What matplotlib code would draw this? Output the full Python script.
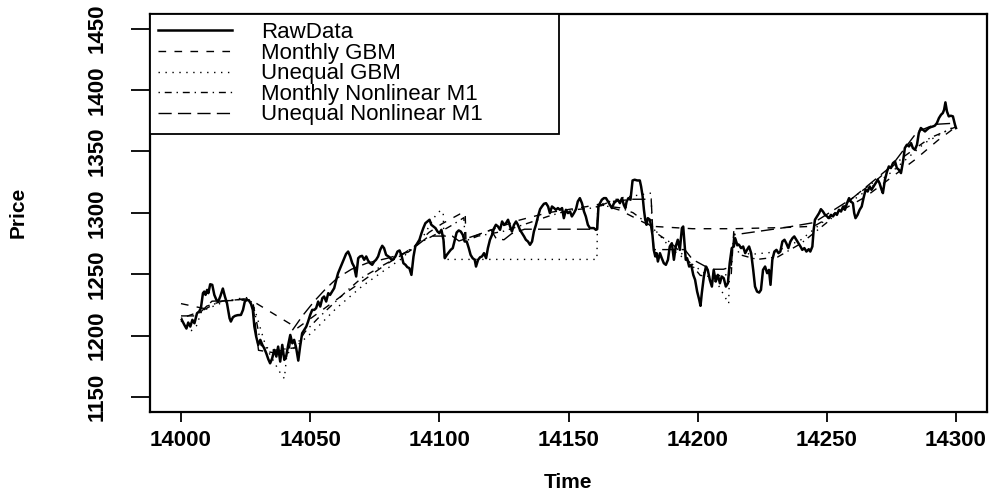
import matplotlib
matplotlib.use('Agg')
import matplotlib.pyplot as plt
from matplotlib.lines import Line2D

plt.rcParams['font.family'] = ['Liberation Sans', 'DejaVu Sans']

# ---------------- data ----------------
raw_t = [14000.3, 14001.3, 14002.1, 14002.8, 14003.6, 14004.4, 14005.2, 14006.2, 14007.0, 14007.7,
         14008.5, 14009.0, 14009.5, 14010.1, 14010.6, 14011.3, 14012.1, 14012.9, 14013.7, 14014.4,
         14015.2, 14016.2, 14017.0, 14017.8, 14018.8, 14019.3, 14020.1, 14020.9, 14021.9, 14023.2,
         14024.0, 14024.7, 14025.5, 14026.3, 14027.1, 14027.8, 14028.4, 14029.1, 14029.9, 14030.7,
         14031.5, 14032.2, 14033.0, 14033.8, 14034.5, 14035.3, 14036.1, 14036.9, 14037.6, 14038.4,
         14039.2, 14040.0, 14040.7, 14041.5, 14042.3, 14043.1, 14043.8, 14044.6, 14045.4, 14046.1,
         14046.9, 14047.7, 14048.5, 14049.2, 14050.0, 14050.8, 14051.6, 14052.3, 14053.1, 14053.9,
         14054.7, 14055.4, 14056.2, 14057.0, 14057.7, 14058.5, 14059.3, 14060.1, 14060.8, 14061.6,
         14062.4, 14063.2, 14063.9, 14064.7, 14065.5, 14066.3, 14067.0, 14067.8, 14068.6, 14069.3,
         14070.1, 14070.9, 14071.7, 14072.4, 14073.2, 14074.0, 14074.8, 14075.5, 14076.3, 14077.1,
         14077.9, 14078.6, 14079.4, 14080.7, 14081.5, 14082.2, 14083.0, 14083.8, 14084.6, 14085.3,
         14086.1, 14086.9, 14087.6, 14088.4, 14089.2, 14090.0, 14090.7, 14091.5, 14092.3, 14093.1,
         14093.8, 14094.6, 14095.4, 14096.2, 14096.9, 14097.7, 14098.5, 14099.3, 14100.0, 14100.8,
         14101.6, 14102.1, 14102.9, 14103.6, 14104.4, 14105.2, 14106.0, 14106.7, 14107.5, 14108.3,
         14109.1, 14109.8, 14110.6, 14111.4, 14112.1, 14112.9, 14113.7, 14114.2, 14115.0, 14115.8,
         14116.5, 14117.3, 14118.1, 14118.8, 14119.6, 14120.4, 14121.2, 14121.9, 14122.7, 14123.5,
         14124.3, 14125.0, 14125.8, 14126.6, 14127.4, 14128.1, 14128.9, 14129.7, 14130.4, 14131.2,
         14132.0, 14132.8, 14133.5, 14134.3, 14135.1, 14135.9, 14136.6, 14137.4, 14138.2, 14139.0,
         14139.7, 14140.5, 14141.3, 14142.1, 14142.8, 14143.6, 14144.4, 14145.1, 14145.9, 14146.7,
         14147.5, 14148.2, 14149.0, 14149.8, 14150.6, 14151.3, 14152.1, 14152.9, 14153.6, 14154.4,
         14155.2, 14156.0, 14156.7, 14157.5, 14158.3, 14159.1, 14159.8, 14160.6, 14161.1, 14161.6,
         14162.2, 14162.9, 14163.7, 14164.5, 14165.3, 14166.0, 14166.8, 14167.6, 14168.3, 14169.1,
         14169.9, 14170.7, 14171.4, 14172.0, 14172.5, 14173.2, 14174.0, 14174.8, 14175.6, 14176.6,
         14177.6, 14178.1, 14178.7, 14179.2, 14179.7, 14180.2, 14180.7, 14181.5, 14182.0, 14182.5,
         14183.0, 14183.6, 14184.1, 14184.6, 14185.4, 14186.1, 14186.9, 14187.7, 14188.5, 14189.2,
         14190.0, 14190.8, 14191.5, 14192.3, 14193.1, 14193.9, 14194.4, 14194.9, 14195.4, 14195.9,
         14196.7, 14197.5, 14198.3, 14199.0, 14199.8, 14200.6, 14201.1, 14201.6, 14202.4, 14203.2,
         14203.9, 14204.7, 14205.5, 14206.2, 14207.0, 14207.8, 14208.6, 14209.3, 14210.1, 14210.9,
         14211.7, 14212.4, 14213.2, 14214.0, 14214.5, 14215.3, 14216.0, 14216.8, 14217.6, 14218.4,
         14219.1, 14219.9, 14220.7, 14221.5, 14222.2, 14223.0, 14223.8, 14224.5, 14225.3, 14226.1,
         14226.9, 14227.6, 14228.2, 14228.9, 14229.7, 14230.5, 14231.3, 14232.0, 14232.8, 14233.6,
         14234.3, 14235.1, 14235.9, 14236.7, 14237.4, 14238.2, 14239.0, 14239.8, 14240.5, 14241.3,
         14242.1, 14243.0, 14243.6, 14244.4, 14244.9, 14245.4, 14246.2, 14247.0, 14247.7, 14248.5,
         14249.3, 14250.1, 14250.8, 14251.6, 14252.4, 14253.2, 14253.9, 14254.7, 14255.5, 14256.3,
         14257.0, 14257.8, 14258.6, 14259.3, 14260.1, 14260.6, 14261.1, 14261.9, 14262.7, 14263.5,
         14264.2, 14265.0, 14265.8, 14266.6, 14267.3, 14268.1, 14268.9, 14269.7, 14270.4, 14271.2,
         14271.7, 14272.5, 14273.3, 14274.0, 14274.8, 14275.6, 14276.4, 14277.1, 14277.9, 14278.7,
         14279.5, 14280.2, 14281.0, 14281.8, 14282.6, 14283.3, 14284.1, 14284.9, 14285.6, 14286.4,
         14287.2, 14288.0, 14288.7, 14289.5, 14290.3, 14291.1, 14291.8, 14292.6, 14293.4, 14294.2,
         14294.9, 14295.4, 14295.9, 14296.5, 14297.2, 14298.0, 14298.8, 14299.6, 14300.0]
raw_v = [1212.8, 1208.7, 1205.7, 1210.6, 1207.3, 1212.8, 1210.0, 1218.2, 1219.5, 1222.3,
         1234.5, 1235.8, 1233.1, 1237.2, 1234.5, 1241.8, 1241.3, 1233.1, 1229.1, 1227.7,
         1231.8, 1238.3, 1231.8, 1226.3, 1214.1, 1211.4, 1214.9, 1216.0, 1216.6, 1216.8,
         1220.9, 1227.7, 1229.1, 1228.5, 1225.8, 1220.9, 1207.3, 1199.2, 1192.4, 1196.5,
         1192.4, 1189.7, 1185.6, 1180.7, 1177.4, 1181.5, 1188.3, 1182.9, 1191.0, 1178.8,
         1192.4, 1180.2, 1182.9, 1192.4, 1200.5, 1193.7, 1196.5, 1189.7, 1179.6, 1191.0,
         1201.9, 1204.6, 1207.3, 1211.4, 1216.8, 1220.9, 1220.9, 1222.3, 1227.7, 1223.6,
         1230.4, 1231.8, 1227.7, 1234.5, 1233.1, 1235.8, 1238.6, 1245.4, 1250.8, 1254.9,
         1258.9, 1263.0, 1266.5, 1268.4, 1264.4, 1258.9, 1256.2, 1248.1, 1263.0, 1264.4,
         1264.9, 1261.7, 1264.4, 1261.1, 1258.9, 1257.6, 1260.3, 1261.7, 1264.4, 1269.8,
         1273.1, 1271.2, 1265.7, 1263.8, 1261.7, 1262.2, 1264.4, 1268.4, 1269.3, 1265.7,
         1258.9, 1257.6, 1255.7, 1254.9, 1249.4, 1264.4, 1272.5, 1275.2, 1278.0, 1283.4,
         1287.5, 1291.5, 1292.9, 1294.3, 1290.2, 1288.8, 1287.5, 1284.7, 1283.4, 1286.1,
         1278.0, 1263.0, 1265.7, 1267.6, 1269.8, 1271.2, 1278.0, 1283.9, 1285.6, 1284.7,
         1282.0, 1276.6, 1276.6, 1271.2, 1265.7, 1263.0, 1261.7, 1256.2, 1261.7, 1263.8,
         1264.4, 1267.1, 1263.0, 1271.2, 1278.0, 1282.0, 1287.5, 1290.2, 1288.8, 1286.1,
         1292.9, 1290.2, 1291.5, 1294.3, 1288.8, 1284.7, 1290.2, 1292.9, 1290.2, 1286.1,
         1283.4, 1280.7, 1278.0, 1276.6, 1273.9, 1276.6, 1284.7, 1290.2, 1297.0, 1302.9,
         1305.1, 1307.3, 1307.8, 1305.1, 1299.7, 1305.1, 1303.8, 1302.4, 1303.8, 1302.4,
         1303.8, 1295.6, 1302.4, 1299.7, 1301.0, 1297.0, 1299.7, 1302.9, 1309.2, 1311.9,
         1307.8, 1301.0, 1297.0, 1290.2, 1287.5, 1287.5, 1287.5, 1286.1, 1286.6, 1305.1,
         1307.8, 1310.6, 1311.9, 1311.9, 1309.2, 1306.5, 1303.8, 1307.8, 1309.2, 1310.6,
         1307.8, 1311.9, 1306.5, 1303.8, 1309.2, 1311.9, 1310.6, 1326.3, 1326.9, 1326.3,
         1326.3, 1321.4, 1313.3, 1302.4, 1294.3, 1290.2, 1295.6, 1294.3, 1288.8, 1282.0,
         1269.8, 1264.4, 1267.1, 1260.3, 1267.1, 1263.0, 1258.9, 1257.6, 1261.7, 1272.5,
         1275.2, 1261.7, 1272.5, 1278.0, 1269.8, 1287.5, 1288.8, 1275.2, 1261.7, 1263.0,
         1256.2, 1257.6, 1249.4, 1245.4, 1235.8, 1229.1, 1224.2, 1234.5, 1248.1, 1256.2,
         1253.5, 1245.4, 1239.9, 1253.5, 1244.0, 1249.4, 1242.6, 1248.1, 1246.7, 1239.9,
         1242.6, 1258.9, 1271.2, 1272.5, 1279.3, 1273.9, 1273.9, 1271.2, 1272.5, 1267.1,
         1269.8, 1272.5, 1267.1, 1253.5, 1239.9, 1235.8, 1235.0, 1237.2, 1253.5, 1256.2,
         1250.8, 1253.5, 1241.3, 1261.7, 1268.4, 1269.8, 1267.1, 1268.4, 1276.6, 1278.0,
         1275.2, 1271.2, 1276.6, 1279.3, 1280.7, 1278.0, 1275.2, 1272.5, 1269.8, 1271.2,
         1268.4, 1270.3, 1268.4, 1272.5, 1286.1, 1294.3, 1297.0, 1299.7, 1302.9, 1301.0,
         1298.3, 1297.0, 1295.6, 1298.3, 1297.0, 1299.7, 1298.3, 1302.4, 1301.0, 1305.1,
         1302.4, 1307.8, 1311.9, 1309.2, 1307.8, 1299.7, 1295.6, 1298.3, 1302.4, 1305.1,
         1311.9, 1318.7, 1317.3, 1321.4, 1318.7, 1321.4, 1324.1, 1326.9, 1324.1, 1318.7,
         1316.0, 1326.9, 1333.6, 1337.7, 1336.4, 1340.4, 1341.8, 1336.4, 1335.0, 1332.3,
         1341.8, 1352.7, 1355.4, 1354.0, 1356.7, 1352.7, 1351.3, 1355.4, 1364.9, 1369.0,
         1367.6, 1366.2, 1367.6, 1369.0, 1369.8, 1370.3, 1370.9, 1373.0, 1377.1, 1379.8,
         1381.2, 1383.9, 1389.9, 1382.5, 1378.5, 1379.0, 1378.5, 1371.7, 1369.0]

mgbm_t = [14000, 14009, 14012, 14027, 14045, 14062, 14078, 14090, 14096, 14101, 14108, 14110,
          14110.3, 14115, 14120, 14131, 14142, 14157, 14162, 14170, 14182, 14198, 14214, 14234,
          14245, 14265, 14284, 14293, 14300]
mgbm_v = [1226, 1222, 1228, 1229, 1206, 1232, 1256, 1272, 1284, 1291, 1299, 1300,
          1278, 1282, 1286, 1294, 1300, 1305, 1307, 1302, 1289, 1287, 1287, 1288,
          1289, 1313, 1343, 1359, 1370]

ugbm_t = [14000, 14004, 14006, 14008, 14015, 14022, 14026, 14028, 14033, 14038, 14040, 14041,
          14045, 14052, 14060, 14070, 14078, 14085, 14093, 14098.6, 14100.5, 14101.5, 14102,
          14161, 14161.3, 14170, 14182, 14182.3, 14190, 14198, 14207.5, 14212, 14212.3, 14214,
          14220, 14230, 14240, 14250, 14262, 14275, 14288, 14300]
ugbm_v = [1212, 1204, 1208, 1220, 1226, 1230, 1231, 1225, 1190, 1171, 1165, 1185,
          1192, 1205, 1222, 1240, 1252, 1262, 1278, 1298, 1302, 1300, 1262,
          1262, 1306, 1312, 1316, 1289, 1270, 1258, 1243, 1226, 1250, 1278,
          1266, 1268, 1278, 1295, 1313, 1333, 1357, 1371]

mnl_t = [14000, 14008, 14015, 14026, 14028, 14031, 14036, 14044, 14048, 14053, 14058, 14064,
         14070, 14078, 14085, 14092, 14100, 14105, 14109.5, 14110, 14115, 14125, 14135, 14142,
         14150, 14160, 14162, 14170, 14175, 14182, 14185, 14190, 14196, 14201, 14205, 14213,
         14214, 14216, 14223, 14231, 14240, 14250, 14260, 14270, 14280, 14290, 14300]
mnl_v = [1214, 1220, 1228, 1230, 1225, 1192, 1188, 1190, 1203, 1214, 1224, 1236,
         1247, 1257, 1265, 1275, 1284, 1290, 1296, 1277, 1281, 1285, 1292, 1297,
         1302, 1304, 1306, 1304, 1300, 1289, 1282, 1275, 1262, 1249, 1248, 1250,
         1286, 1266, 1262, 1264, 1275, 1292, 1312, 1328, 1346, 1361, 1370]

unl_t = [14000, 14006, 14010, 14016, 14026, 14028, 14030, 14036, 14042, 14043, 14047, 14051.6,
         14056, 14060.6, 14066, 14072, 14080, 14088, 14096, 14105, 14107.6, 14114.7, 14120,
         14122, 14125, 14128, 14133, 14161, 14161.5, 14166, 14175, 14182, 14183, 14195, 14198,
         14205, 14210, 14213, 14214, 14234, 14245, 14260, 14275, 14285, 14292, 14300]
unl_v = [1216, 1216, 1224, 1228, 1230, 1222, 1188, 1186, 1190, 1204, 1216, 1228,
         1238, 1247, 1254, 1259, 1263, 1268, 1281, 1281, 1277, 1282, 1286,
         1279, 1278, 1283, 1286.6, 1286.6, 1305, 1309, 1311, 1311, 1270, 1270, 1262,
         1254, 1254, 1256, 1282, 1288, 1292, 1312, 1338, 1366, 1372, 1373]

series_labels = ['RawData', 'Monthly GBM', 'Unequal GBM', 'Monthly Nonlinear M1', 'Unequal Nonlinear M1']
x_ticks = [14000, 14050, 14100, 14150, 14200, 14250, 14300]
x_tick_labels = ['14000', '14050', '14100', '14150', '14200', '14250', '14300']
y_ticks = [1150, 1200, 1250, 1300, 1350, 1400, 1450]
y_tick_labels = ['1150', '1200', '1250', '1300', '1350', '1400', '1450']

# ---------------- figure ----------------
fig = plt.figure(figsize=(10, 4.95), dpi=100)
ax = fig.add_axes([0.15, 0.1683, 0.837, 0.8038])

styles = [
    dict(color='black', lw=1.8, linestyle='-'),
    dict(color='black', lw=1.0, linestyle=(0, (5.5, 6))),
    dict(color='black', lw=1.0, linestyle=(0, (1, 4))),
    dict(color='black', lw=1.0, linestyle=(0, (1, 3.5, 5, 3.5))),
    dict(color='black', lw=1.0, linestyle=(0, (9.5, 4.5))),
]
data = [(raw_t, raw_v), (mgbm_t, mgbm_v), (ugbm_t, ugbm_v), (mnl_t, mnl_v), (unl_t, unl_v)]
for (t, v), st, lab in list(zip(data, styles, series_labels))[1:]:
    ax.plot(t, v, label=lab, **st)
ax.plot(raw_t, raw_v, label=series_labels[0], zorder=5, **styles[0])

ax.set_xlim(13988, 14312)
ax.set_ylim(1138, 1462)

ax.set_xticks(x_ticks, labels=x_tick_labels, fontsize=16, fontweight='bold')
ax.set_yticks(y_ticks, labels=y_tick_labels, fontsize=16, fontweight='bold',
              rotation=90, va='center')
ax.tick_params(axis='x', length=7.2, width=1.3, pad=6, direction='out')
ax.tick_params(axis='y', length=13.7, width=1.3, pad=17, direction='out')
for sp in ax.spines.values():
    sp.set_linewidth(1.6)

ax.set_xlabel('Time', fontsize=15, fontweight='bold')
ax.xaxis.set_label_coords(0.5, -0.179)
ax.xaxis.label.set_verticalalignment('center')
ax.set_ylabel('Price', fontsize=15, fontweight='bold')
ax.yaxis.set_label_coords(-0.1577, 0.5)
ax.yaxis.label.set_verticalalignment('center')

handles = [Line2D([], [], **st) for st in styles]
leg = ax.legend(handles, series_labels, loc='upper left', bbox_to_anchor=(0, 1, 0.4887, 0),
                mode='expand', borderaxespad=0, frameon=True, fancybox=False,
                edgecolor='black', framealpha=1, fontsize=16, labelspacing=-0.02,
                handlelength=3.3, handletextpad=1.3, borderpad=0.38)
leg.get_frame().set_linewidth(1.3)

fig.savefig('out.png', dpi=100)
